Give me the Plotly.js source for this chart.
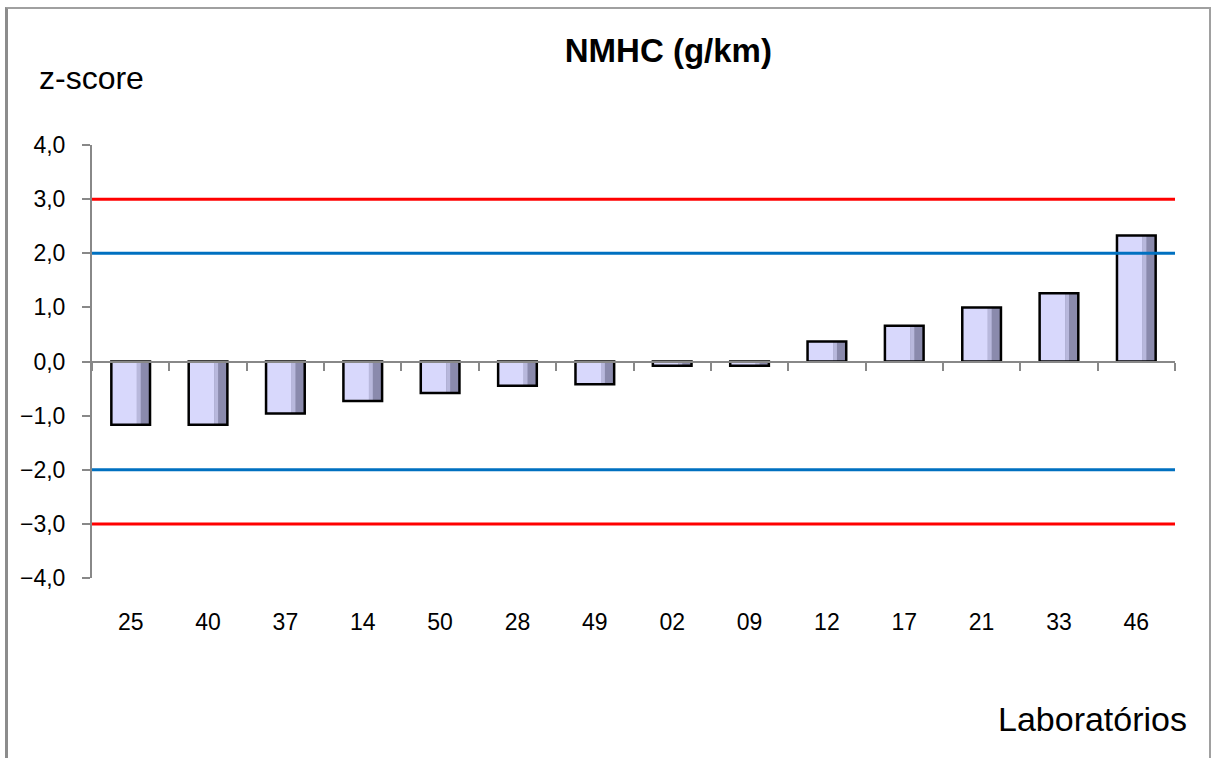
<!DOCTYPE html>
<html>
<head>
<meta charset="utf-8">
<script src="https://cdn.plot.ly/plotly-3.0.1.min.js"></script>
<style>
html,body{margin:0;padding:0;background:#fff;overflow:hidden;}
#chart{position:absolute;left:0;top:0;width:1213px;height:758px;}
#frame{position:absolute;left:5px;top:7px;width:1201px;height:800px;border-left:3px solid #8c8c8c;border-top:2px solid #a0a0a0;border-right:2px solid #a0a0a0;pointer-events:none;}
</style>
</head>
<body>
<div id="chart"></div>
<div id="frame"></div>
<script>
// Data
var labs = ["25","40","37","14","50","28","49","02","09","12","17","21","33","46"];
var zscores = [-1.17,-1.17,-0.96,-0.73,-0.58,-0.45,-0.42,-0.08,-0.08,0.37,0.66,1.00,1.26,2.33];
var warnLimits = [-2, 2];
var actionLimits = [-3, 3];
var yTicks = [-4,-3,-2,-1,0,1,2,3,4];

var idx = labs.map(function(_, i){ return i; });
var bounds = [-0.5].concat(idx.map(function(i){ return i + 0.5; }));

var font = "Liberation Sans, Arial, sans-serif";

var traces = [
  {type:"bar", x:idx, y:zscores, width:0.5, marker:{color:"#8a8aac", line:{width:0}}, hoverinfo:"skip", showlegend:false},
  {type:"bar", x:idx, y:zscores, width:0.33, offset:-0.25, marker:{color:"#d8d8fc", line:{width:0}}, hoverinfo:"skip", showlegend:false},
  {type:"bar", x:idx, y:zscores, width:0.05, offset:0.08, marker:{color:"#b8b8dc", line:{width:0}}, hoverinfo:"skip", showlegend:false},
  {type:"bar", x:idx, y:zscores, width:0.5, marker:{color:"rgba(0,0,0,0)", line:{width:2.5, color:"#000"}}, hoverinfo:"skip", showlegend:false},
  {type:"scatter", x:[-0.5,13.5], y:[0,0], xaxis:"x2", mode:"none", hoverinfo:"skip", showlegend:false}
];

var shapes = [];
actionLimits.forEach(function(v){
  shapes.push({type:"line", xref:"paper", yref:"y", x0:0, x1:1, y0:v, y1:v, line:{color:"#ff0000", width:3}, layer:"above"});
});
warnLimits.forEach(function(v){
  shapes.push({type:"line", xref:"paper", yref:"y", x0:0, x1:1, y0:v, y1:v, line:{color:"#0070c0", width:3}, layer:"above"});
});

var layout = {
  width:1213, height:758,
  margin:{l:92, r:38, t:145, b:180},
  paper_bgcolor:"#fff", plot_bgcolor:"#fff",
  separators:",.",
  barmode:"overlay",
  showlegend:false,
  font:{family:font, color:"#000"},
  title:{text:"<b>NMHC (g/km)</b>", font:{family:font, size:33, color:"#000"}, x:0.551, xanchor:"center", y:0.934, yanchor:"middle"},
  xaxis:{
    range:[-0.5,13.5], tickvals:idx, ticktext:labs,
    ticks:"outside", ticklen:23, tickcolor:"rgba(0,0,0,0)",
    showline:false, showgrid:false, zeroline:false,
    tickfont:{family:font, size:23, color:"#000"}
  },
  xaxis2:{
    overlaying:"x", anchor:"free", position:0.5,
    range:[-0.5,13.5], tickvals:bounds, ticks:"outside", ticklen:8, tickwidth:2, tickcolor:"#888",
    showticklabels:false, showline:true, linecolor:"#888", linewidth:2,
    showgrid:false, zeroline:false
  },
  yaxis:{
    range:[-4,4], tickvals:yTicks, tickformat:".1f",
    ticks:"outside", ticklen:8, tickwidth:2, tickcolor:"#888",
    showline:true, linecolor:"#888", linewidth:2,
    showgrid:false, zeroline:false,
    ticklabelstandoff:12,
    tickfont:{family:font, size:23, color:"#000"}
  },
  shapes:shapes,
  annotations:[
    {text:"z-score", xref:"paper", yref:"paper", x:-0.051, y:1.155, xanchor:"left", yanchor:"middle", showarrow:false, font:{family:font, size:32, color:"#000"}},
    {text:"Laboratórios", xref:"paper", yref:"paper", x:1.013, y:-0.325, xanchor:"right", yanchor:"middle", showarrow:false, font:{family:font, size:34, color:"#000"}}
  ]
};

Plotly.newPlot("chart", traces, layout, {displayModeBar:false, staticPlot:true});
</script>
</body>
</html>
